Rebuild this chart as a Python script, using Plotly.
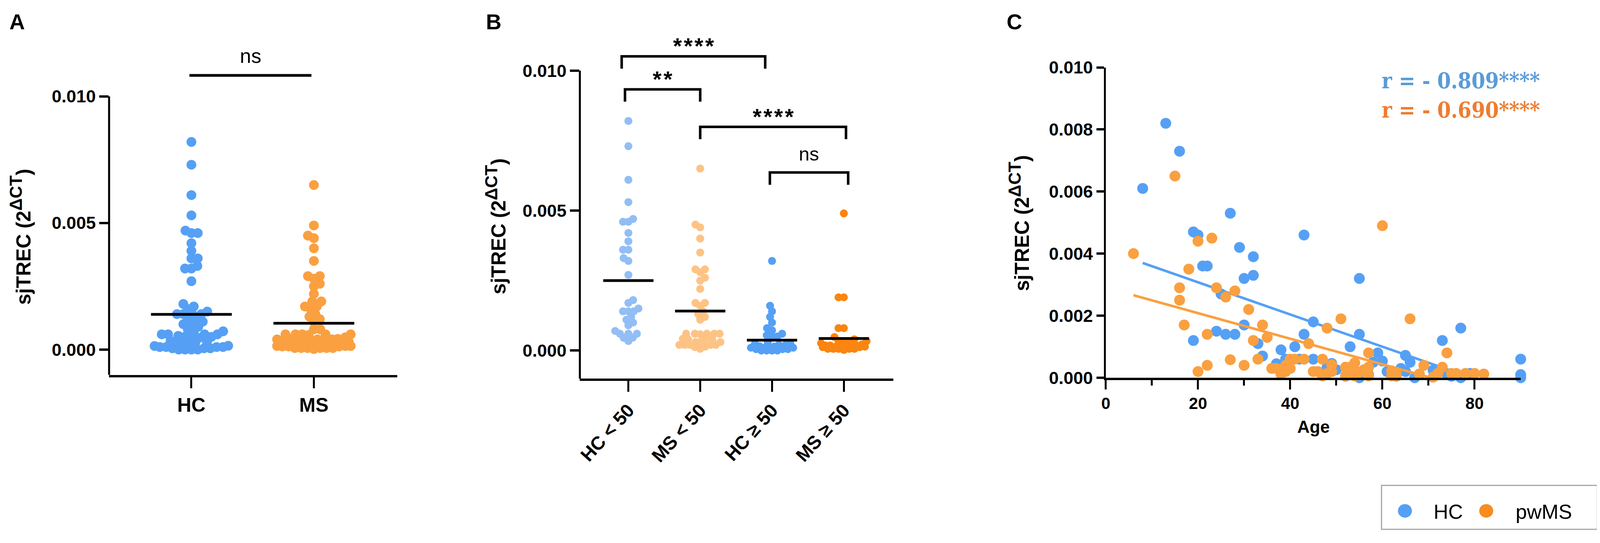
import numpy as np
import plotly.graph_objects as go

# ---- data ----
hc_age = [8, 13, 16, 19, 19, 20, 21, 22, 24, 25, 26, 27, 28, 29, 30, 30, 32, 32, 33, 34,
          37, 38, 39, 41, 42, 43, 43, 45, 45, 48, 49,
          50, 52, 53, 55, 55, 55, 57, 58, 59, 60, 61, 62, 63, 64, 65, 65, 66, 67, 68,
          71, 73, 74, 75, 77, 77, 79, 90, 90, 90]
hc_sjtrec = [0.0061, 0.0082, 0.0073, 0.0047, 0.0012, 0.0046, 0.0036, 0.0036, 0.0015, 0.0027,
             0.0014, 0.0053, 0.0014, 0.0042, 0.0032, 0.0017, 0.0039, 0.0033, 0.0011, 0.0007,
             0.00045, 0.0009, 0.0006, 0.0010, 0.0006, 0.0046, 0.0014, 0.0018, 0.0006, 0.00034, 0.00046,
             0.00026, 0.00005, 0.0010, 0.0032, 0.0014, 0.0, 0.0001, 0.0005, 0.0008, 0.00054,
             0.0002, 0.00015, 0.00005, 0.0003, 0.00072, 0.0002, 0.0005, 0.0, 0.0001,
             0.00024, 0.0012, 0.0001, 0.00005, 0.0016, 0.0, 0.00014, 0.0006, 0.0001, 0.0]

ms_age = [6, 15, 16, 16, 17, 18, 20, 20, 22, 22, 23, 24, 26, 27, 28, 30, 31, 32, 33, 34,
          35, 36, 37, 38, 39, 39, 40, 40, 41, 43, 44, 45, 46, 47, 47, 48, 48, 49, 49,
          51, 52, 52, 53, 53, 54, 54, 55, 56, 57, 57, 57, 60, 62, 62, 63, 63, 66, 68,
          69, 71, 72, 73, 74, 75, 76, 78, 80, 82]
ms_sjtrec = [0.0040, 0.0065, 0.0029, 0.0025, 0.0017, 0.0035, 0.0044, 0.0002, 0.0014, 0.0004,
             0.0045, 0.0029, 0.0026, 0.00058, 0.0028, 0.0004, 0.0022, 0.0012, 0.0006, 0.0017,
             0.0013, 0.0003, 0.0003, 0.00012, 0.0004, 0.0002, 0.0006, 0.0003, 0.0006, 0.0006,
             0.0011, 0.0002, 0.0002, 0.0006, 0.00006, 0.0016, 0.00014, 0.0002, 0.00042,
             0.0019, 0.00006, 0.00034, 0.00034, 0.00018, 0.00048, 0.00006, 0.00018, 0.00026,
             0.0008, 0.00034, 0.00006, 0.0049, 0.00006, 0.00022, 0.00018, 0.00006, 0.0019,
             0.00012, 0.0004, 0.00002, 0.00014, 0.00034, 0.0008, 0.00014, 0.00014, 0.00014,
             0.00014, 0.00012]

age_cut = 50
groups_a = ["HC", "MS"]
means_a = [0.00139, 0.00104]
groups_b = ["HC < 50", "MS < 50", "HC ≥ 50", "MS ≥ 50"]
means_b = [0.00250, 0.00141, 0.00037, 0.00043]

# regression lines (end points)
hc_fit_age = [8, 79.3]
hc_fit_val = [0.0037, 0.0]
ms_fit_age = [6, 70.5]
ms_fit_val = [0.00266, 0.0]
r_texts = ["r = - 0.809****", "r = - 0.690****"]
legend_names = ["HC", "pwMS"]

# significance brackets: (left, right, height, label)
STARS4 = "*\u200a*\u200a*\u200a*"
STARS2 = "*\u200a*"
comp_a = [(-0.016, 0.98, 0.01083, "ns")]
comp_b = [(-0.093, 1.905, 0.01051, STARS4),
          (-0.047, 1.0, 0.00933, STARS2),
          (1.0, 3.03, 0.00799, STARS4),
          (1.97, 3.06, 0.00636, "ns")]

# ---- page geometry ----
# the photographed page is 4096 css px wide and 1390 tall, body keeps its 8px margin;
# layout is measured in reference pixels (4768 x 1390) and mapped onto it
REF_W = 4768
SX = 4096 / REF_W
MARGIN = 8
FW = 4096 - 2 * MARGIN
FH = 1390 - 2 * MARGIN
SM = (SX + 1) / 2          # for round things (markers)


def fx(X):
    return (X * SX - MARGIN) / FW


def fy(Y):
    return 1 - (Y - MARGIN) / FH


FONT = "Liberation Sans, Arial, sans-serif"
HC_BLUE = "#55A0F5"
MS_ORANGE = "#FAA040"
HC_LIGHT = "#92BEF5"
MS_LIGHT = "#FDC385"
MS_DARK = "#FA850F"
LEG_ORANGE = "#F98C1F"
R_COLORS = ["#5B9BD5", "#ED7D31"]

# panel boxes in reference pixels: (left, right, top, bottom) and axis ranges
box_a = (312, 1173, 149.2, 970.3)
xr_a, yr_a = [-0.672, 1.680], [-0.001, 0.0112]
box_b = (1719, 2656, 109.4, 980)
xr_b, yr_b = [-0.6755, 3.689], [-0.001, 0.0107]
box_c = (3291, 4531, 153, 978)
xr_c, yr_c = [0, 90], [0, 0.010]


def dom_x(b):
    return [fx(b[0]), fx(b[1])]


def dom_y(b):
    return [fy(b[3]), fy(b[2])]


def scales(b, xr, yr):
    return (b[1] - b[0]) / (xr[1] - xr[0]), (b[3] - b[2]) / (yr[1] - yr[0])


def swarm(vals, px_x, px_y, diam, maxw):
    vals = np.asarray(vals, float)
    off = np.zeros(len(vals))
    placed = []
    for n, i in enumerate(np.argsort(vals, kind="stable")):
        y = vals[i] * px_y
        cands = [0.0]
        for qx, qy in placed:
            dy = y - qy
            if abs(dy) < diam:
                dx = np.sqrt(diam ** 2 - dy ** 2)
                cands += [qx + dx, qx - dx]
        sgn = 1 if n % 2 else -1
        cands = sorted((c for c in cands if abs(c) <= maxw), key=lambda c: (round(abs(c), 3), sgn * c))
        best = None
        for c in cands:
            if all((c - qx) ** 2 + (y - qy) ** 2 >= diam ** 2 - 1e-6 for qx, qy in placed):
                best = c
                break
        if best is None:
            grid = np.linspace(-maxw, maxw, 41)
            dmin = [min((g - qx) ** 2 + (y - qy) ** 2 for qx, qy in placed) for g in grid]
            best = grid[int(np.argmax(dmin))]
        off[i] = best / px_x
        placed.append((best, y))
    return off


fig = go.Figure()

# ---- panel A ----
hc_v = np.array(hc_sjtrec)
ms_v = np.array(ms_sjtrec)
hc_a = np.array(hc_age)
ms_a = np.array(ms_age)
sx, sy = scales(box_a, xr_a, yr_a)
for i, (vals, col) in enumerate([(hc_v, HC_BLUE), (ms_v, MS_ORANGE)]):
    fig.add_trace(go.Scatter(x=i + swarm(vals, sx, sy, 19, 110), y=vals, mode="markers",
                             marker=dict(size=27 * SM, color=col, line=dict(width=0)),
                             cliponaxis=False, showlegend=False, xaxis="x", yaxis="y"))
mx, my = [], []
for i, m in enumerate(means_a):
    mx += [i - 0.33, i + 0.33, None]
    my += [m, m, None]
fig.add_trace(go.Scatter(x=mx, y=my, mode="lines", line=dict(color="black", width=7),
                         showlegend=False, xaxis="x", yaxis="y"))

# ---- panel B ----
sx, sy = scales(box_b, xr_b, yr_b)
b_sets = [(hc_v[hc_a < age_cut], HC_LIGHT), (ms_v[ms_a < age_cut], MS_LIGHT),
          (hc_v[hc_a >= age_cut], HC_BLUE), (ms_v[ms_a >= age_cut], MS_DARK)]
for i, (vals, col) in enumerate(b_sets):
    fig.add_trace(go.Scatter(x=i + swarm(vals, sx, sy, 16, 68), y=vals, mode="markers",
                             marker=dict(size=22 * SM, color=col, line=dict(width=0)),
                             cliponaxis=False, showlegend=False, xaxis="x2", yaxis="y2"))
mx, my = [], []
for i, m in enumerate(means_b):
    mx += [i - 0.35, i + 0.35, None]
    my += [m, m, None]
fig.add_trace(go.Scatter(x=mx, y=my, mode="lines", line=dict(color="black", width=7),
                         showlegend=False, xaxis="x2", yaxis="y2"))

# ---- panel C ----
fig.add_trace(go.Scatter(x=hc_age, y=hc_sjtrec, mode="markers", name=legend_names[0],
                         marker=dict(size=30 * SM, color=HC_BLUE, line=dict(width=0)),
                         cliponaxis=False, showlegend=False, xaxis="x3", yaxis="y3"))
fig.add_trace(go.Scatter(x=hc_fit_age, y=hc_fit_val, mode="lines", line=dict(color=HC_BLUE, width=6.5),
                         showlegend=False, cliponaxis=False, xaxis="x3", yaxis="y3"))
fig.add_trace(go.Scatter(x=ms_age, y=ms_sjtrec, mode="markers", name=legend_names[1],
                         marker=dict(size=30 * SM, color=MS_ORANGE, line=dict(width=0)),
                         cliponaxis=False, showlegend=False, xaxis="x3", yaxis="y3"))
fig.add_trace(go.Scatter(x=ms_fit_age, y=ms_fit_val, mode="lines", line=dict(color=MS_ORANGE, width=6.5),
                         showlegend=False, cliponaxis=False, xaxis="x3", yaxis="y3"))


# ---- axes ----
def bold(s):
    return dict(family=FONT, size=s, color="black", weight="bold")


VLW = 6 * SX   # thickness of vertical strokes
HLW = 6        # thickness of horizontal strokes


def xaxis(**kw):
    base = dict(ticks="outside", tickwidth=VLW, tickcolor="black", showgrid=False,
                zeroline=False, linecolor="black", linewidth=HLW, showline=True)
    base.update(kw)
    return base


def yaxis(**kw):
    base = dict(ticks="outside", tickwidth=HLW, tickcolor="black", showgrid=False,
                zeroline=False, linecolor="black", linewidth=VLW, tickformat=".3f")
    base.update(kw)
    return base


fig.update_layout(
    xaxis=xaxis(domain=dom_x(box_a), range=xr_a, anchor="y", tickvals=[0, 1], ticktext=groups_a,
                ticklen=28, tickfont=bold(50)),
    yaxis=yaxis(domain=dom_y(box_a), range=yr_a, anchor="x", tickvals=[0, 0.005, 0.010],
                showline=False, ticklen=28 * SX, tickfont=bold(45)),
    xaxis2=xaxis(domain=dom_x(box_b), range=xr_b, anchor="y2", tickvals=[0, 1, 2, 3], ticktext=groups_b,
                 tickangle=-48, ticklen=28, tickfont=bold(48)),
    yaxis2=yaxis(domain=dom_y(box_b), range=yr_b, anchor="x2", tickvals=[0, 0.005, 0.010],
                 showline=False, ticklen=28 * SX, tickfont=bold(45)),
    xaxis3=xaxis(domain=dom_x(box_c), range=xr_c, anchor="y3", tickvals=[0, 20, 40, 60, 80],
                 ticklen=24, tickfont=bold(42),
                 minor=dict(tickvals=[10, 30, 50, 70], ticks="outside", ticklen=14,
                            tickwidth=VLW, tickcolor="black")),
    yaxis3=yaxis(domain=dom_y(box_c), range=yr_c, anchor="x3",
                 tickvals=[0, 0.002, 0.004, 0.006, 0.008, 0.010],
                 showline=True, ticklen=22 * SX, tickfont=bold(45)),
)

shapes = []
# y-axis lines for A and B stop at 0.010 like the original
for xa, ya, yb in [("x", "y", -0.00109), ("x2", "y2", -0.00108)]:
    shapes.append(dict(type="line", xref=xa + " domain", yref=ya, x0=0, x1=0, y0=yb, y1=0.010,
                       line=dict(color="black", width=VLW)))
for x0, x1, yb, lab in comp_a:
    shapes.append(dict(type="line", xref="x", yref="y", x0=x0, x1=x1, y0=yb, y1=yb,
                       line=dict(color="black", width=7)))
leg = 0.00044
for x0, x1, yb, lab in comp_b:
    shapes.append(dict(type="path", xref="x2", yref="y2",
                       path=f"M {x0},{yb - leg} L {x0},{yb} L {x1},{yb} L {x1},{yb - leg}",
                       line=dict(color="black", width=6.5)))

ann = []
for lab, cx in [("A", 37), ("B", 1462), ("C", 3018)]:
    ann.append(dict(text=lab, x=fx(cx), y=fy(32), xref="paper", yref="paper",
                    xanchor="center", yanchor="middle", showarrow=False, font=bold(55)))
ytitle = 'sjTREC (2<sup><span style="font-size:44px">ΔCT</span></sup>)'
for cx, cy in [(47, 603), (1467, 576), (3032, 567)]:
    ann.append(dict(text=ytitle, x=fx(cx), y=fy(cy), xref="paper", yref="paper",
                    xanchor="center", yanchor="middle", textangle=-90, showarrow=False,
                    font=bold(51)))
ann.append(dict(text="Age", x=fx(3912), y=fy(1108), xref="paper", yref="paper",
                xanchor="center", yanchor="middle", showarrow=False, font=bold(44)))
for x0, x1, yb, lab in comp_a:
    ann.append(dict(text=lab, x=(x0 + x1) / 2, y=yb, xref="x", yref="y", xanchor="center",
                    yanchor="bottom", yshift=19, showarrow=False,
                    font=dict(family=FONT, size=52, color="black")))
for x0, x1, yb, lab in comp_b:
    is_ns = lab == "ns"
    ann.append(dict(text=lab, x=(x0 + x1) / 2, y=yb, xref="x2", yref="y2", xanchor="center",
                    yanchor="bottom", yshift=19 if is_ns else -8, showarrow=False,
                    font=dict(family=FONT, size=49 if is_ns else 58, color="black",
                              weight="normal" if is_ns else "bold")))
for txt, yv, col in zip(r_texts, [0.00958, 0.00864], R_COLORS):
    ann.append(dict(text=txt, x=59.7, y=yv, xref="x3", yref="y3", xanchor="left",
                    yanchor="middle", showarrow=False,
                    font=dict(family="DejaVu Serif Condensed, DejaVu Serif, serif", size=56,
                              color=col, weight="bold")))

# legend box drawn as in the original (bordered, large round keys)
shapes.append(dict(type="rect", xref="paper", yref="paper", x0=fx(4115), x1=fx(4760),
                   y0=fy(1381), y1=fy(1264), line=dict(color="#A6A6A6", width=3),
                   fillcolor="white", layer="below"))
key_r = 18
for (kx, tx), name, col in zip([(4185, 4268), (4428, 4513)], legend_names, [HC_BLUE, LEG_ORANGE]):
    cxp = fx(kx) * FW
    cyp = (1 - fy(1332)) * FH
    shapes.append(dict(type="circle", xref="paper", yref="paper",
                       x0=(cxp - key_r) / FW, x1=(cxp + key_r) / FW,
                       y0=1 - (cyp + key_r) / FH, y1=1 - (cyp - key_r) / FH,
                       fillcolor=col, line=dict(width=0)))
    ann.append(dict(text=name, x=fx(tx), y=fy(1334), xref="paper", yref="paper",
                    xanchor="left", yanchor="middle", showarrow=False,
                    font=dict(family=FONT, size=52, color="black")))

fig.update_layout(
    width=FW, height=FH, margin=dict(l=0, r=0, t=0, b=0),
    paper_bgcolor="white", plot_bgcolor="white",
    shapes=shapes, annotations=ann, showlegend=False,
)

fig.write_html("out.html")
